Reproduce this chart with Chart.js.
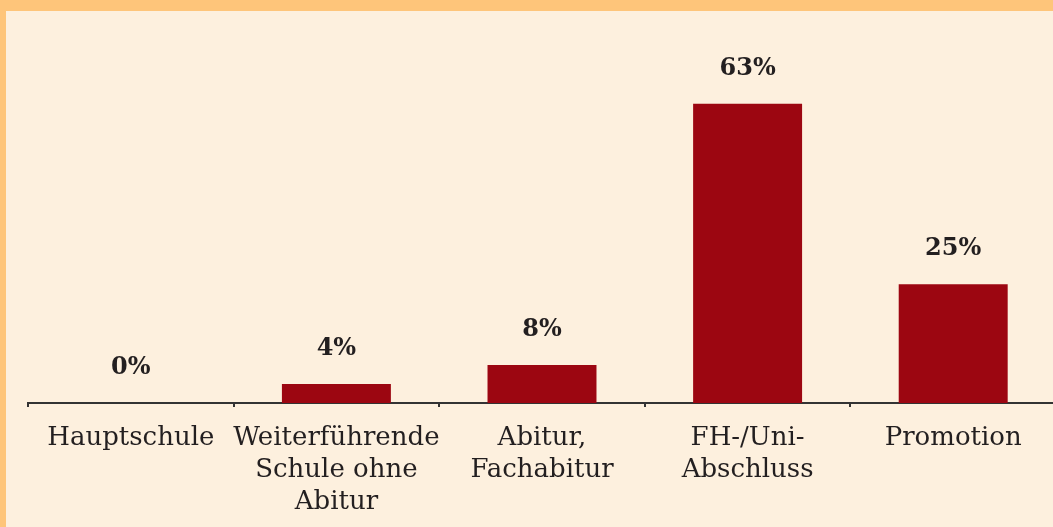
<!DOCTYPE html>
<html>
<head>
<meta charset="utf-8">
<script src="https://cdn.jsdelivr.net/npm/chart.js@4"></script>
<style>
  html, body { margin: 0; padding: 0; overflow: hidden; }
  body { width: 1053px; height: 527px; background: #fec57a; position: relative; }
  #panel { position: absolute; left: 6px; top: 11px; width: 1047px; height: 516px; background: #fdf0de; overflow: hidden; }
  #chart-edu { position: absolute; left: 0; top: 0; }
</style>
</head>
<body>
<div id="panel"><canvas id="chart-edu" width="1050" height="522"></canvas></div>
<script>
const categories = ["Hauptschule", ["Weiterführende", "Schule ohne", "Abitur"], ["Abitur,", "Fachabitur"], ["FH-/Uni-", "Abschluss"], "Promotion"];
const shares = [0, 4, 8, 63, 25];
const shareLabels = ["0%", "4%", "8%", "63%", "25%"];

// draws the percent text above each bar
const valueLabels = {
    id: "valueLabels",
    afterDatasetsDraw(chart) {
        const ctx = chart.ctx;
        const bars = chart.getDatasetMeta(0).data;
        ctx.save();
        ctx.font = "bold 24px 'DejaVu Serif'";
        ctx.fillStyle = "#231f20";
        ctx.textAlign = "center";
        ctx.textBaseline = "alphabetic";
        bars.forEach((bar, i) => {
            ctx.fillText(shareLabels[i], bar.x, bar.y - 29);
        });
        ctx.restore();
    },
};

const data = {
    labels: categories,
    datasets: [
        {
            data: shares,
            backgroundColor: "#9c0611",
            barPercentage: 0.53,
            categoryPercentage: 1,
        },
    ],
};

const config = {
    type: "bar",
    data: data,
    plugins: [valueLabels],
    options: {
        responsive: false,
        animation: false,
        layout: { padding: { left: 22, right: 0, top: 12, bottom: 0 } },
        plugins: { legend: { display: false }, tooltip: { enabled: false } },
        scales: {
            x: {
                border: { color: "#333", width: 2 },
                grid: { drawOnChartArea: false, tickLength: 4, color: "#333", lineWidth: 2 },
                ticks: {
                    color: "#231f20",
                    padding: 15,
                    maxRotation: 0,
                    autoSkip: false,
                    font: { family: "'DejaVu Serif'", size: 26, lineHeight: 1.23 },
                },
            },
            y: { display: false, min: 0, max: 80 },
        },
    },
};
const canvas = document.getElementById("chart-edu");
const chart = new Chart(canvas, config);
</script>
</body>
</html>
